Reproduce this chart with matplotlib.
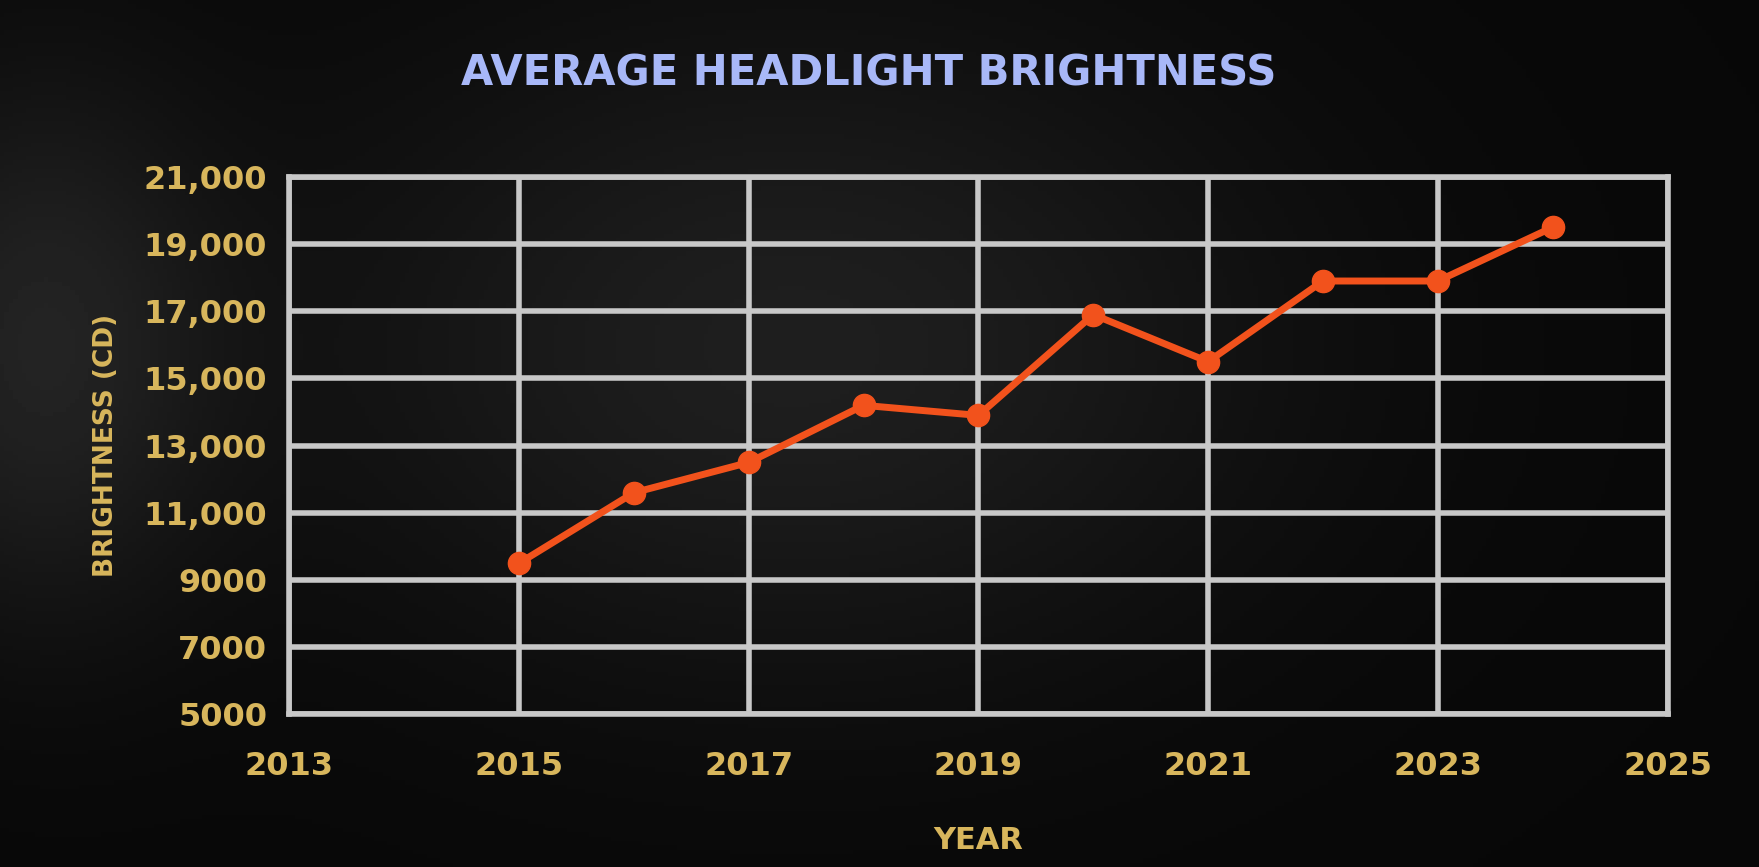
import numpy as np
import matplotlib
matplotlib.use("Agg")
import matplotlib.pyplot as plt

years = [2015, 2016, 2017, 2018, 2019, 2020, 2021, 2022, 2023, 2024]
brightness = [9500, 11600, 12500, 14200, 13900, 16900, 15500, 17900, 17900, 19500]
x_ticks = [2013, 2015, 2017, 2019, 2021, 2023, 2025]
y_ticks = [5000, 7000, 9000, 11000, 13000, 15000, 17000, 19000, 21000]
y_labels = ["5000", "7000", "9000", "11,000", "13,000", "15,000", "17,000", "19,000", "21,000"]

GOLD = "#d8b65c"
GRID = "#c8c8c8"

fig = plt.figure(figsize=(17.59, 8.67), dpi=100)
fig.patch.set_facecolor("#050505")

# dark smoky background
bg = fig.add_axes([0, 0, 1, 1], zorder=-10)
yy, xx = np.mgrid[0:1:200j, 0:1:400j]
shade = 0.03 + 0.09 * np.exp(-((xx - 0.45) ** 2 / 0.08 + (yy - 0.4) ** 2 / 0.15)) \
        + 0.10 * np.exp(-((xx - 0.02) ** 2 / 0.01 + (yy - 0.4) ** 2 / 0.1))
bg.imshow(shade, cmap="gray", vmin=0, vmax=1, aspect="auto", extent=[0, 1, 0, 1])
bg.axis("off")

ax = fig.add_axes([0.1645, 0.176, 0.7835, 0.62])
ax.set_facecolor("none")
ax.set_xlim(2013, 2025)
ax.set_ylim(5000, 21000)
ax.set_xticks(x_ticks)
ax.set_yticks(y_ticks)
ax.set_yticklabels(y_labels)
ax.grid(True, color=GRID, linewidth=4)
for s in ax.spines.values():
    s.set_color(GRID)
    s.set_linewidth(4)
ax.tick_params(length=0, colors=GOLD, labelsize=23)
ax.tick_params(axis="x", pad=26)
ax.tick_params(axis="y", pad=16)
for lab in ax.get_xticklabels() + ax.get_yticklabels():
    lab.set_fontweight("bold")

ax.plot(years, brightness, color="#f2521c", linewidth=5, marker="o",
        markersize=16, zorder=5, clip_on=False)

ax.set_xlabel("YEAR", color=GOLD, fontsize=22, fontweight="bold", labelpad=32)
ax.set_ylabel("BRIGHTNESS (CD)", color=GOLD, fontsize=19, fontweight="bold", labelpad=18)
fig.text(0.494, 0.915, "AVERAGE HEADLIGHT BRIGHTNESS", color="#a8b8f8",
         fontsize=30, fontweight="bold", ha="center", va="center")

plt.savefig("out.png", dpi=100, facecolor=fig.get_facecolor())
